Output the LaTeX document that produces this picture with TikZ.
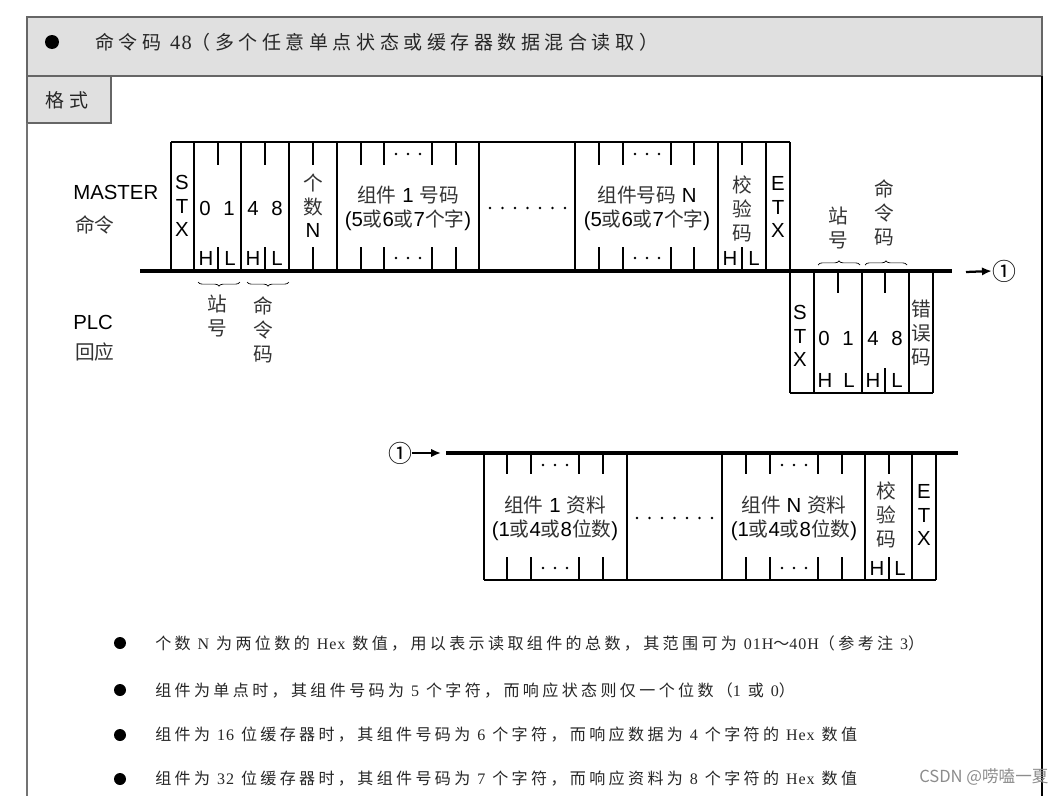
\documentclass[tikz,border=0pt]{standalone}
\usepackage{fontspec}
\setmainfont{Liberation Sans}
\newfontfamily\zh{Noto Sans CJK SC}
\newfontfamily\zhsp[LetterSpace=21]{Noto Sans CJK SC}
\newfontfamily\zhti[LetterSpace=24]{Noto Sans CJK SC}
\newfontfamily\tms[LetterSpace=6]{Liberation Serif}
\usetikzlibrary{arrows.meta,decorations.pathreplacing}

% CJK piece inside the sans labels
\newcommand\z[1]{{\zh\fontsize{14}{17}\selectfont\color{black!80}#1}}
\newcommand\en[1]{{\tms #1}}

\tikzset{
  hdr/.style={fill=black!12,draw=black!60,line width=0.8pt},
  cell/.style={line width=1.3pt},
  bus/.style={line width=2.6pt},
  arr/.style={line width=1.6pt,-{Latex[length=7pt,width=6pt]}},
  brc/.style={decorate,decoration={brace,amplitude=3pt},line width=0.5pt},
  lbl/.style={inner sep=0pt,align=center,font=\fontsize{14.5}{16.6}\selectfont},
  zhlbl/.style={inner sep=0pt,align=center,text=black!80,
                font=\zh\fontsize{14}{17}\selectfont},
  note/.style={inner sep=0pt,anchor=west,text=black!85,
               font=\zhsp\fontsize{11.4}{14}\selectfont},
  dot/.style={fill=black}
}

\begin{document}
\begin{tikzpicture}[x=0.025cm,y=-0.025cm]
  \useasboundingbox (0,0) rectangle (1061,796);

  % page frame and title
  \draw[hdr] (27,17) rectangle (1042,76);
  \draw[hdr] (27,76) rectangle (111,123);
  \draw[black!55,line width=1pt] (27,123) -- (27,796);
  \draw[line width=1pt] (1042,76) -- (1042,796);
  \fill (52,42) circle (7);
  \node[note,font=\zhti\fontsize{13.5}{16}\selectfont] (title) at (95,42)
    {命令码 {\fontsize{14.5}{16}\selectfont\en{48}}（多个任意单点状态或缓存器数据混合读取）};
  \node[zhlbl,text=black!85,font=\zhti\fontsize{13.5}{16}\selectfont]
    (fmt) at (67,100) {格式};

  % left captions
  \node[lbl,anchor=west] (master) at (73,192) {MASTER};
  \node[zhlbl,anchor=west] (mcmd) at (75,225) {命令};
  \node[lbl,anchor=west] (plc) at (73,322) {PLC};
  \node[zhlbl,anchor=west] (preply) at (75,352) {回应};

  % ---- master command frame
  \draw[cell] (171,142) -- (790,142);
  \foreach \x in {171,194,241,289,337,479,575,718,766,790}
    \draw[cell] (\x,142) -- (\x,271);
  \foreach \x in {218,265,313,361,384,432,456,599,623,671,694,742} {
    \draw[cell] (\x,142) -- (\x,165);
    \draw[cell] (\x,247) -- (\x,271);
  }
  \foreach \x in {408,647}
    \foreach \d in {-12,0,12} {
      \fill[dot] (\x+\d,154) circle (1.4);
      \fill[dot] (\x+\d,258) circle (1.4);
    }
  \foreach \i in {0,...,6}
    \fill[dot] (490+\i*12.5,208) circle (1.4);
  \draw[bus] (140,271) -- (952,271);

  \node[lbl] (m-stx) at (182,206) {S\\T\\X};
  \foreach \x/\t [count=\k] in {205/0,229/1,253/4,277/8}
    \node[lbl] (m-dg\k) at (\x,208) {\t};
  \foreach \x/\t [count=\k] in {206/H,230/L,253/H,277/L,730/H,754/L}
    \node[lbl] (m-hl\k) at (\x,258) {\t};
  \node[lbl] (m-cnt) at (313,206) {\z{个}\\\z{数}\\N};
  \node[lbl] (m-dev1) at (408,195) {\z{组件} 1 \z{号码}};
  \node[lbl] (m-dev1w) at (408,220) {(5\z{或}6\z{或}7\z{个字})};
  \node[lbl] (m-devn) at (647,195) {\z{组件号码} N};
  \node[lbl] (m-devnw) at (647,220) {(5\z{或}6\z{或}7\z{个字})};
  \node[zhlbl] (m-sum) at (742,209) {校\\验\\码};
  \node[lbl] (m-etx) at (778,207) {E\\T\\X};

  % braces below station / command
  \draw[brc] (240,282) -- (198,282);
  \draw[brc] (289,282) -- (247,282);
  \node[zhlbl] (m-stl) at (217,316) {站\\号};
  \node[zhlbl] (m-cmdl) at (263,330) {命\\令\\码};

  % ---- PLC reply frame
  \draw[cell] (790,393) -- (933,393);
  \foreach \x in {790,814,862,909,933}
    \draw[cell] (\x,271) -- (\x,393);
  \draw[cell] (838,271) -- (838,293);
  \draw[cell] (885,271) -- (885,293);
  \draw[cell] (885,368) -- (885,393);
  \node[lbl] (p-stx) at (800,336) {S\\T\\X};
  \foreach \x/\t [count=\k] in {824/0,848/1,873/4,897/8}
    \node[lbl] (p-dg\k) at (\x,338) {\t};
  \node[zhlbl] (p-err) at (921,333) {错\\误\\码};
  \foreach \x/\t [count=\k] in {825/H,849/L,873/H,897/L}
    \node[lbl] (p-hl\k) at (\x,380) {\t};
  \draw[brc] (818,265) -- (860,265);
  \draw[brc] (865,265) -- (907,265);
  \node[zhlbl] (p-stl) at (838,228) {站\\号};
  \node[zhlbl] (p-cmdl) at (884,213) {命\\令\\码};

  \coordinate (busend) at (966,272);
  \node[lbl,font=\zh\fontsize{17}{17}\selectfont] (c1) at (1004,271) {①};
  \draw[arr] (busend) -- (c1.west);

  % ---- continuation: data from PLC
  \node[lbl,font=\zh\fontsize{17}{17}\selectfont] (c2) at (400,453) {①};
  \coordinate (busstart) at (441,453);
  \draw[arr] (c2.east) -- (busstart);
  \draw[bus] (446,453) -- (958,453);
  \draw[cell] (484,580) -- (936,580);
  \foreach \x in {484,627,722,865,912,936}
    \draw[cell] (\x,453) -- (\x,580);
  \foreach \x in {507,531,579,603,746,770,818,842,889} {
    \draw[cell] (\x,453) -- (\x,474);
    \draw[cell] (\x,557) -- (\x,580);
  }
  \foreach \x in {555,794}
    \foreach \d in {-12,0,12} {
      \fill[dot] (\x+\d,465) circle (1.4);
      \fill[dot] (\x+\d,568) circle (1.4);
    }
  \foreach \i in {0,...,6}
    \fill[dot] (637+\i*12.5,518) circle (1.4);

  \node[lbl] (d-dat1) at (555,505) {\z{组件} 1 \z{资料}};
  \node[lbl] (d-dat1w) at (555,530) {(1\z{或}4\z{或}8\z{位数})};
  \node[lbl] (d-datn) at (794,505) {\z{组件} N \z{资料}};
  \node[lbl] (d-datnw) at (794,530) {(1\z{或}4\z{或}8\z{位数})};
  \node[zhlbl] (d-sum) at (886,515) {校\\验\\码};
  \node[lbl] (d-h) at (877,568) {H};
  \node[lbl] (d-l) at (900,568) {L};
  \node[lbl] (d-etx) at (924,515) {E\\T\\X};

  % ---- notes
  \foreach \y in {643,690,735,779}
    \fill (120,\y) circle (6);
  \node[note] (n1) at (155,643)
    {个数 \en{N} 为两位数的 \en{Hex} 数值，用以表示读取组件的总数，其范围可为 \en{01H}～\en{40H}（参考注 \en{3}）};
  \node[note] (n2) at (155,690)
    {组件为单点时，其组件号码为 \en{5} 个字符，而响应状态则仅一个位数（\en{1} 或 \en{0}）};
  \node[note] (n3) at (155,735)
    {组件为 \en{16} 位缓存器时，其组件号码为 \en{6} 个字符，而响应数据为 \en{4} 个字符的 \en{Hex} 数值};
  \node[note] (n4) at (155,779)
    {组件为 \en{32} 位缓存器时，其组件号码为 \en{7} 个字符，而响应资料为 \en{8} 个字符的 \en{Hex} 数值};

  \node[inner sep=0pt,anchor=west,text=black!45,font=\zh\fontsize{11.8}{14}\selectfont]
    (mark) at (919,777) {CSDN @唠嗑一夏};
\end{tikzpicture}
\end{document}
